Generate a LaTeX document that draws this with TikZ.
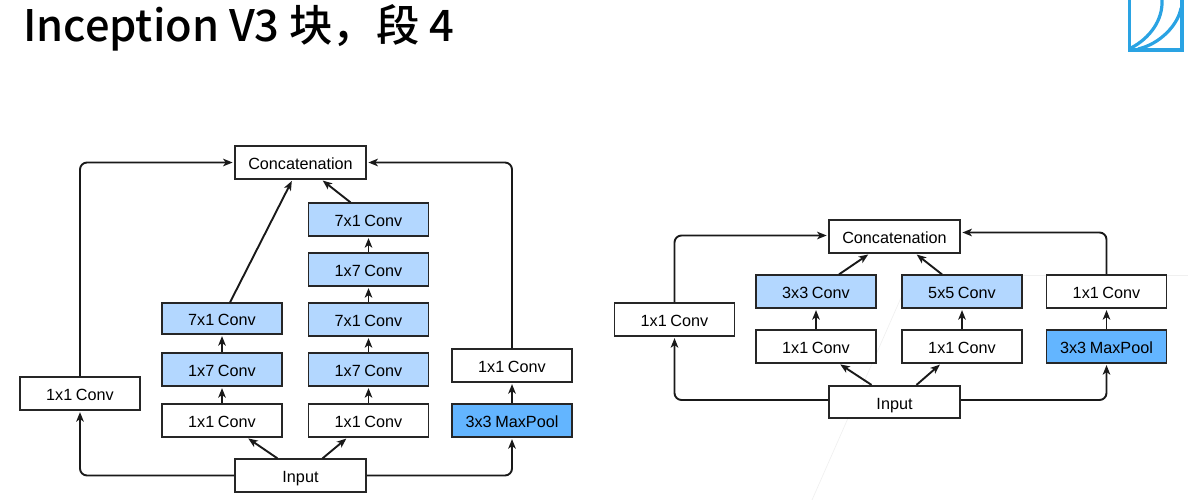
\documentclass[tikz,border=0pt]{standalone}
\usepackage{xcolor}
\usepackage{fontspec}
\setmainfont[WordSpace=0.8]{Liberation Sans}
\newfontfamily\cjk[UprightFont={* Medium}]{Noto Sans CJK SC}
\usepackage{tikz}
\usetikzlibrary{arrows.meta, positioning}

\definecolor{convblue}{HTML}{B3D7FF}
\definecolor{poolblue}{HTML}{63B5FF}
\definecolor{logoblue}{HTML}{2AA3E3}
\definecolor{faint}{HTML}{F0F0F0}

\tikzset{
    conv/.style={draw=black!85, line width=1.7pt, minimum width=120pt, minimum height=32.5pt,
        inner sep=0pt, fill=white, text height=14pt, text depth=0pt,
        font=\fontsize{16.2}{18}\selectfont},
    wide/.style={conv, minimum width=131pt},
    convb/.style={conv, fill=convblue},
    pool/.style={conv, fill=poolblue},
    link/.style={-{Stealth[length=9.5pt, width=7.5pt, inset=2.5pt]}, color=black!90, line width=1.9pt,
        rounded corners=7pt, shorten >=1.5pt}
}

\begin{document}
\begin{tikzpicture}[x=1pt, y=-1pt, node distance=50pt, on grid]
        \useasboundingbox (0,0) rectangle (1188,500);

        % watermark
        \draw[faint, line width=0.7pt] (911,275) -- (812,500);
        \draw[faint, line width=0.7pt] (911,275) -- (1188,275);

        \node[anchor=west, inner sep=0pt, font=\cjk\fontsize{43.4}{50}\selectfont] (title) at (23,27.5) {Inception V3 块，段 4};

        % logo
        \draw[logoblue, line width=3.8pt] (1129.5,0) -- (1129.5,50) -- (1182,50) -- (1182,0);
        \draw[logoblue, line width=3.2pt] (1131,48) .. controls (1150,38) and (1163,20) .. (1162,0);
        \draw[logoblue, line width=3.2pt] (1138,49) .. controls (1160,44) and (1178,25) .. (1181,8);

        % left block
        \node[conv] (a1) at (222,420.5) {1x1 Conv};
        \node[convb] (a2) [above=51pt of a1] {1x7 Conv};
        \node[convb, minimum height=30.5pt] (a3) [above=51pt of a2] {7x1 Conv};

        \node[conv] (b1) at (368.5,420.5) {1x1 Conv};
        \node[convb] (b2) [above=51pt of b1] {1x7 Conv};
        \node[convb] (b3) [above=50pt of b2] {7x1 Conv};
        \node[convb] (b4) [above=50pt of b3] {1x7 Conv};
        \node[convb] (b5) [above=50pt of b4] {7x1 Conv};

        \node[pool] (c1) at (512,420.5) {3x3 MaxPool};
        \node[conv] (c2) [above=55pt of c1] {1x1 Conv};
        \node[conv] (d1) at (80,393.5) {1x1 Conv};

        \node[wide] (in) at (300.5,475.5) {Input};
        \node[wide] (cat) at (300.5,162.5) {Concatenation};

        \path[link]
        ([xshift=-23pt]in.north) edge ([xshift=25pt]a1.south)
        ([xshift=22pt]in.north) edge ([xshift=-21pt]b1.south)
        (a1) edge (a2)
        (a2) edge (a3)
        (b1) edge (b2)
        (b2) edge (b3)
        (b3) edge (b4)
        (b4) edge (b5)
        (c1) edge (c2)
        ([xshift=8pt]a3.north) edge ([xshift=-8pt]cat.south)
        ([xshift=-18pt]b5.north) edge ([xshift=21pt]cat.south);
        \draw[link] (in.west) -| (d1.south);
        \draw[link] (in.east) -| (c1.south);
        \draw[link] (d1.north) |- (cat.west);
        \draw[link] (c2.north) |- (cat.east);

        % right block
        \node[conv] (e1) at (816,346.5) {1x1 Conv};
        \node[convb] (e2) [above=55pt of e1] {3x3 Conv};
        \node[conv] (f1) at (962,346.5) {1x1 Conv};
        \node[convb] (f2) [above=55pt of f1] {5x5 Conv};
        \node[pool] (g1) at (1106.5,346.5) {3x3 MaxPool};
        \node[conv] (g2) [above=55pt of g1] {1x1 Conv};
        \node[conv] (h1) at (674.5,319.5) {1x1 Conv};

        \node[wide] (in2) at (894.5,402) {Input};
        \node[wide] (cat2) at (894.5,236.5) {Concatenation};

        \path[link]
        ([xshift=-23pt]in2.north) edge ([xshift=23pt]e1.south)
        ([xshift=22pt]in2.north) edge ([xshift=-21pt]f1.south)
        (e1) edge (e2)
        (f1) edge (f2)
        (g1) edge (g2)
        ([xshift=23pt]e2.north) edge ([xshift=-25pt]cat2.south)
        ([xshift=-20pt]f2.north) edge ([xshift=21pt]cat2.south);
        \draw[link] ([yshift=2pt]in2.west) -| (h1.south);
        \draw[link] ([yshift=2pt]in2.east) -| (g1.south);
        \draw[link] (h1.north) |- ([yshift=1pt]cat2.west);
        \draw[link] (g2.north) |- ([yshift=4pt]cat2.east);

\end{tikzpicture}
\end{document}
